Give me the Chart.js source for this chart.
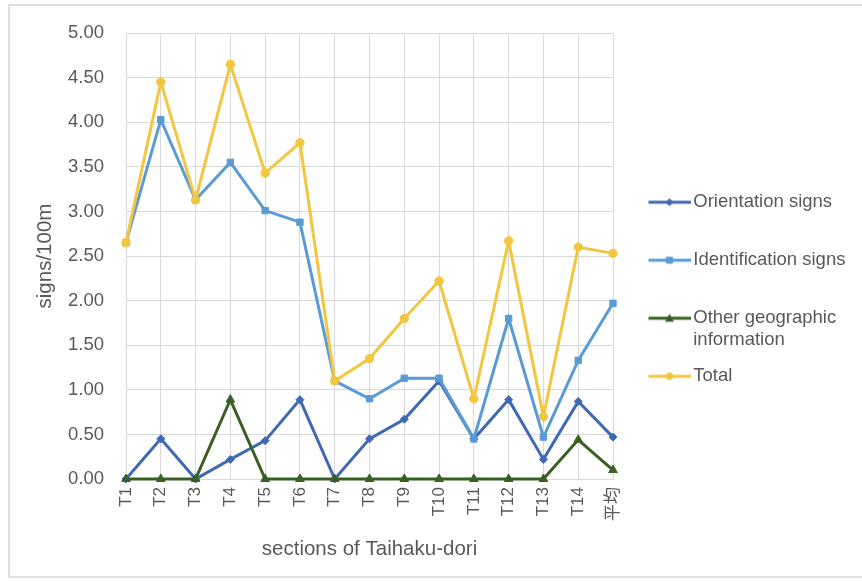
<!DOCTYPE html>
<html>
<head>
<meta charset="utf-8">
<script src="https://cdn.jsdelivr.net/npm/chart.js@4.4.1/dist/chart.umd.min.js"></script>
<style>
  html, body { margin: 0; padding: 0; background: #ffffff; }
  #frame { position: absolute; left: 8px; top: 4px; width: 900px; height: 574px; border: 2px solid #dedede; box-sizing: border-box; }
  #wrap { position: absolute; left: 0; top: 0; width: 862px; height: 581px; }
</style>
</head>
<body>
<div id="frame"></div>
<div id="wrap"><canvas id="c"></canvas></div>
<script>
const categories = ['T1','T2','T3','T4','T5','T6','T7','T8','T9','T10','T11','T12','T13','T14','平均'];
const orientationSigns    = [0.00, 0.45, 0.00, 0.22, 0.43, 0.89, 0.00, 0.45, 0.67, 1.10, 0.45, 0.89, 0.22, 0.87, 0.47];
const identificationSigns = [2.65, 4.03, 3.13, 3.55, 3.01, 2.88, 1.10, 0.90, 1.13, 1.13, 0.45, 1.80, 0.47, 1.33, 1.97];
const otherGeographic     = [0.00, 0.00, 0.00, 0.89, 0.00, 0.00, 0.00, 0.00, 0.00, 0.00, 0.00, 0.00, 0.00, 0.44, 0.10];
const totalSigns          = [2.65, 4.45, 3.13, 4.65, 3.43, 3.77, 1.10, 1.35, 1.80, 2.22, 0.90, 2.67, 0.70, 2.60, 2.53];
const seriesNames = ['Orientation signs', 'Identification signs', 'Other geographic information', 'Total'];
const legendLines = [['Orientation signs', ''], ['Identification signs', ''], ['Other geographic', 'information'], ['Total', '']];
const yTickValues = [0, 0.5, 1, 1.5, 2, 2.5, 3, 3.5, 4, 4.5, 5];

const colors = ['#4168B2', '#5B9BD5', '#3A5F24', '#F3C641'];
const markers = ['rectRot', 'rect', 'triangle', 'circle'];
const radii = [4, 4.5, 5, 4.2];

const FONT = '"Liberation Sans", Arial, "Noto Sans CJK JP", sans-serif';
const TXT = '#595959';
const LEGEND_WIDTH = 236;

function makeIcon(color, marker) {
  const c = document.createElement('canvas');
  c.width = 70; c.height = 14;
  const g = c.getContext('2d');
  const x0 = 28, x1 = 70, cy = 7, cx = (x0 + x1) / 2;
  g.strokeStyle = color; g.lineWidth = 3;
  g.beginPath(); g.moveTo(x0, cy); g.lineTo(x1, cy); g.stroke();
  g.fillStyle = color;
  g.beginPath();
  if (marker === 'rectRot') { g.moveTo(cx, cy - 4); g.lineTo(cx + 4, cy); g.lineTo(cx, cy + 4); g.lineTo(cx - 4, cy); }
  else if (marker === 'rect') { g.rect(cx - 3.5, cy - 3.5, 7, 7); }
  else if (marker === 'triangle') { g.moveTo(cx, cy - 4.5); g.lineTo(cx + 4.5, cy + 3.5); g.lineTo(cx - 4.5, cy + 3.5); }
  else { g.arc(cx, cy, 3.8, 0, Math.PI * 2); }
  g.closePath(); g.fill();
  return c;
}
const legendIcons = colors.map((c, i) => makeIcon(c, markers[i]));

const legendWidthPlugin = {
  id: 'legendWidth',
  beforeLayout(chart) {
    const lg = chart.legend;
    if (lg && !lg._wPatched) {
      const orig = lg.fit;
      lg.fit = function () { orig.call(this); this.width = LEGEND_WIDTH; };
      lg._wPatched = true;
    }
  }
};

const seriesData = [orientationSigns, identificationSigns, otherGeographic, totalSigns];
const datasets = seriesData.map((d, i) => ({
  label: seriesNames[i],
  data: d,
  borderColor: colors[i],
  backgroundColor: colors[i],
  borderWidth: 3,
  pointStyle: markers[i],
  pointRadius: radii[i],
  pointBorderWidth: 1,
  pointBackgroundColor: colors[i],
  pointBorderColor: colors[i],
  tension: 0,
  clip: false,
  order: 4 - i
}));

new Chart(document.getElementById('c'), {
  type: 'line',
  data: { labels: categories, datasets: datasets },
  plugins: [legendWidthPlugin],
  options: {
    responsive: true,
    maintainAspectRatio: false,
    animation: false,
    devicePixelRatio: 1,
    layout: { padding: { left: 30, right: 13, top: 32, bottom: 17 } },
    plugins: {
      tooltip: { enabled: false },
      legend: {
        position: 'right',
        align: 'center',
        title: { display: true, text: '', font: { size: 1, lineHeight: 1 }, padding: { top: 7, bottom: 0 } },
        labels: {
          usePointStyle: true,
          pointStyleWidth: 57,
          padding: 14,
          color: TXT,
          font: { family: FONT, size: 18.5, lineHeight: 1.19 },
          generateLabels: (chart) => chart.data.datasets.map((ds, i) => ({
            text: legendLines[i],
            fillStyle: ds.borderColor,
            strokeStyle: ds.borderColor,
            fontColor: TXT,
            lineWidth: 0,
            pointStyle: legendIcons[i],
            datasetIndex: i,
            hidden: false
          }))
        }
      }
    },
    scales: {
      x: {
        offset: false,
        afterFit: (s) => { s.height = 85; },
        grid: { color: '#d9d9d9', lineWidth: 1, drawTicks: false },
        border: { color: '#d9d9d9' },
        ticks: {
          color: TXT, font: { family: FONT, size: 17 },
          maxRotation: 90, minRotation: 90, padding: 8, autoSkip: false
        },
        title: {
          display: true, text: 'sections of Taihaku-dori', color: TXT,
          font: { family: FONT, size: 20.5 }, padding: { top: 10, bottom: 2 }
        }
      },
      y: {
        min: 0, max: 5,
        afterFit: (s) => { s.width = 96; },
        afterBuildTicks: (axis) => { axis.ticks = yTickValues.map(v => ({ value: v })); },
        grid: { color: '#d9d9d9', lineWidth: 1, drawTicks: false },
        border: { color: '#d9d9d9' },
        ticks: {
          color: TXT, font: { family: FONT, size: 18.5 }, padding: 22,
          callback: (v) => Number(v).toFixed(2)
        },
        title: {
          display: true, text: 'signs/100m', color: TXT,
          font: { family: FONT, size: 20.5 }, padding: { top: 3, bottom: 4 }
        }
      }
    }
  }
});
</script>
</body>
</html>
